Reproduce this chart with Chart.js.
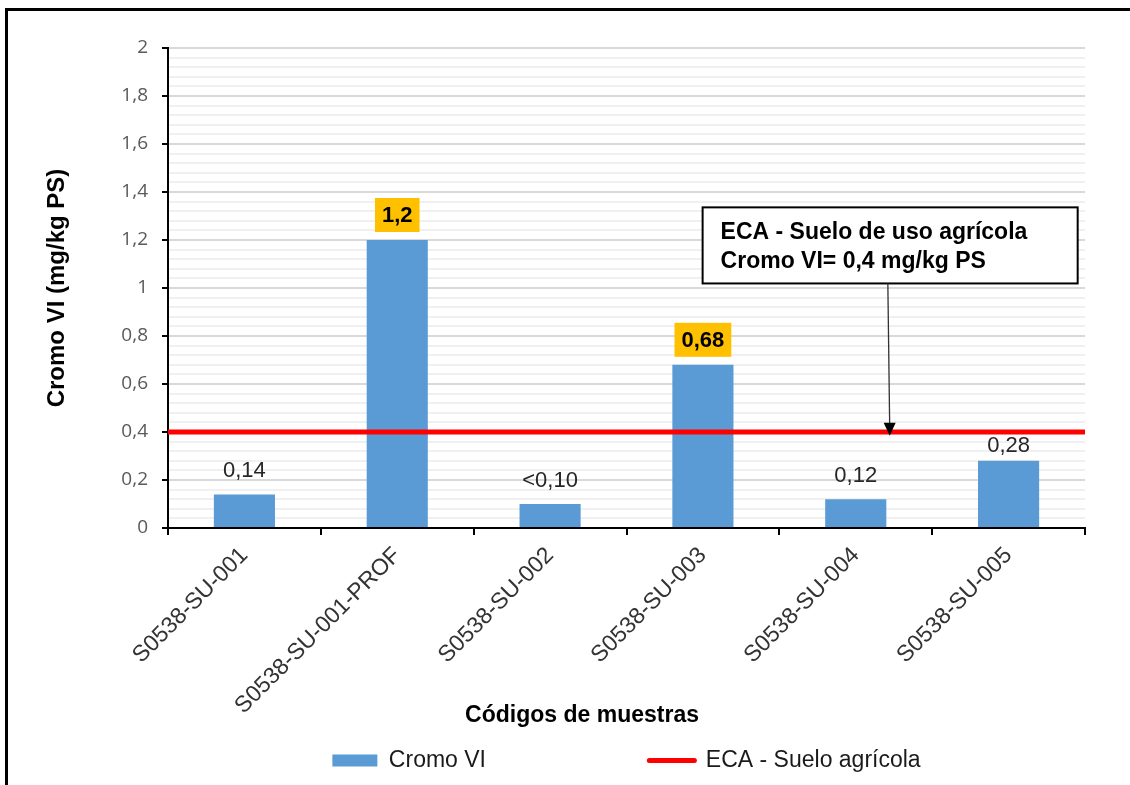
<!DOCTYPE html>
<html>
<head>
<meta charset="utf-8">
<script src="https://cdn.jsdelivr.net/npm/chart.js@4.4.0/dist/chart.umd.min.js"></script>
<style>
	html, body { margin: 0; padding: 0; background: #fff; }
	#wrap { width: 1130px; height: 785px; }
</style>
</head>
<body>
<div id="wrap"><canvas id="cromo" width="1130" height="785"></canvas></div>
<script>
var muestras = ["S0538-SU-001", "S0538-SU-001-PROF", "S0538-SU-002", "S0538-SU-003", "S0538-SU-004", "S0538-SU-005"];
var cromoVI = [0.14, 1.2, 0.10, 0.68, 0.12, 0.28];
var etiquetas = ["0,14", "1,2", "<0,10", "0,68", "0,12", "0,28"];
var resaltado = [false, true, false, true, false, false];
var ecaValor = 0.4;
var ecaLinea = [{ x: 0, y: ecaValor }, { x: 1, y: ecaValor }];
var yMayores = [0, 0.2, 0.4, 0.6, 0.8, 1, 1.2, 1.4, 1.6, 1.8, 2];
var yEtiquetas = ["0", "0,2", "0,4", "0,6", "0,8", "1", "1,2", "1,4", "1,6", "1,8", "2"];
var notaTexto = ["ECA - Suelo de uso agrícola", "Cromo VI= 0,4 mg/kg PS"];

var color = {
	bar: "#5B9BD5"
  , eca: "#FF0000"
  , gold: "#FFC000"
  , text: "#262626"
  , tick: "#595959"
  , major: "#D9D9D9"
  , minor: "#F0F0F0"
};
var fonts = "'Liberation Sans', Arial, sans-serif";

function mayor(v) {
	for (var i = 0; i < yMayores.length; i++) {
		if (Math.abs(yMayores[i] - v) < 1e-6) return i;
	}
	return -1;
}

// marco negro del grafico
var marco = {
	id: "marco",
	beforeDraw: function(chart) {
		var ctx = chart.ctx;
		ctx.save();
		ctx.fillStyle = "#fff";
		ctx.fillRect(0, 0, chart.width, chart.height);
		ctx.strokeStyle = "#000";
		ctx.lineWidth = 3;
		ctx.strokeRect(6.5, 9.5, chart.width + 20, chart.height + 20);
		ctx.restore();
	}
};

// etiquetas de valor, nota ECA con flecha, titulo del eje x
var extras = {
	id: "extras",
	afterDraw: function(chart) {
		var ctx = chart.ctx
		  , meta = chart.getDatasetMeta(0)
		  , x2 = chart.scales.x2
		  , y = chart.scales.y
		  , area = chart.chartArea
		  , lift = [23, 0, 23, 0, 23, 15];
		ctx.save();
		ctx.textAlign = "center";
		ctx.textBaseline = "middle";
		meta.data.forEach(function(bar, i) {
			if (resaltado[i]) {
				ctx.font = "bold 22px " + fonts;
				var w = ctx.measureText(etiquetas[i]).width + 14;
				ctx.fillStyle = color.gold;
				ctx.fillRect(bar.x - w / 2, bar.y - 8 - 34, w, 34);
				ctx.fillStyle = "#000";
				ctx.fillText(etiquetas[i], bar.x, bar.y - 8 - 16);
			} else {
				ctx.font = "22px " + fonts;
				ctx.fillStyle = color.text;
				ctx.fillText(etiquetas[i], bar.x, bar.y - lift[i]);
			}
		});

		// caja de la nota
		var bx0 = x2.getPixelForValue(0.583)
		  , bx1 = x2.getPixelForValue(0.992)
		  , by0 = y.getPixelForValue(1.336)
		  , by1 = y.getPixelForValue(1.019);
		ctx.fillStyle = "#fff";
		ctx.fillRect(bx0, by0, bx1 - bx0, by1 - by0);
		ctx.strokeStyle = "#000";
		ctx.lineWidth = 2;
		ctx.strokeRect(bx0, by0, bx1 - bx0, by1 - by0);
		ctx.font = "bold 23px " + fonts;
		ctx.fillStyle = "#000";
		ctx.textAlign = "left";
		ctx.textBaseline = "alphabetic";
		ctx.fillText(notaTexto[0], bx0 + 18, by0 + 32);
		ctx.fillText(notaTexto[1], bx0 + 18, by0 + 61);

		// flecha
		var ax0 = x2.getPixelForValue(0.785)
		  , ax1 = x2.getPixelForValue(0.787)
		  , tip = y.getPixelForValue(0.384);
		ctx.strokeStyle = "#333";
		ctx.lineWidth = 1.3;
		ctx.beginPath();
		ctx.moveTo(ax0, by1);
		ctx.lineTo(ax1, tip - 10);
		ctx.stroke();
		ctx.fillStyle = "#000";
		ctx.beginPath();
		ctx.moveTo(ax1 - 6, tip - 13);
		ctx.lineTo(ax1 + 6, tip - 13);
		ctx.lineTo(ax1, tip);
		ctx.closePath();
		ctx.fill();

		// titulo eje x
		ctx.font = "bold 23px " + fonts;
		ctx.textAlign = "center";
		ctx.textBaseline = "middle";
		ctx.fillText("Códigos de muestras", x2.getPixelForValue(0.4515), area.bottom + 188);
		ctx.restore();
	}
};

Chart.defaults.font.family = fonts;

var ctx = document.getElementById("cromo").getContext("2d");
var grafico = new Chart(ctx, {
	data: {
		labels: muestras,
		datasets: [
			{
				type: "bar",
				label: "Cromo VI",
				data: cromoVI,
				backgroundColor: color.bar,
				barPercentage: 0.4,
				categoryPercentage: 1,
				grouped: false,
				order: 1
			},
			{
				type: "line",
				label: "ECA - Suelo agrícola",
				data: ecaLinea,
				xAxisID: "x2",
				borderColor: color.eca,
				borderWidth: 5,
				pointRadius: 0,
				fill: false,
				order: 0
			}
		]
	},
	options: {
		responsive: false,
		animation: false,
		devicePixelRatio: 1,
		layout: { padding: { left: 0, right: 45, top: 48, bottom: 3 } },
		plugins: {
			tooltip: { enabled: false },
			legend: {
				position: "bottom",
				fullSize: false,
				labels: {
					usePointStyle: true,
					pointStyleWidth: 45,
					boxHeight: 12,
					padding: 10,
					color: "#1a1a1a",
					font: { size: 23 },
					generateLabels: function(chart) {
						var ds = chart.data.datasets;
						return [
							{ text: ds[0].label + "                        ", fillStyle: color.bar, strokeStyle: color.bar, lineWidth: 0, pointStyle: "rect", datasetIndex: 0, fontColor: "#1a1a1a" },
							{ text: ds[1].label, fillStyle: color.eca, strokeStyle: color.eca, lineWidth: 5, lineCap: "round", pointStyle: "line", datasetIndex: 1, fontColor: "#1a1a1a" }
						];
					}
				}
			}
		},
		scales: {
			x: {
				type: "category",
				offset: true,
				grid: { offset: true, drawOnChartArea: false, drawTicks: true, tickLength: 7, color: "#000", lineWidth: 2 },
				border: { color: "#000", width: 2 },
				ticks: { minRotation: 45, maxRotation: 45, autoSkip: false, padding: 7, color: "#333", font: { size: 23 } },
				afterFit: function(scale) { scale.height = 211; }
			},
			x2: { type: "linear", min: 0, max: 1, display: false },
			y: {
				min: 0,
				max: 2,
				grid: {
					color: function(c) { return mayor(c.tick.value) >= 0 ? color.major : color.minor; },
					lineWidth: 2,
					tickLength: 6,
					tickColor: function(c) { return mayor(c.tick.value) >= 0 ? "#000" : "rgba(0,0,0,0)"; },
					tickWidth: 2
				},
				border: { color: "#000", width: 2 },
				ticks: {
					stepSize: 0.04,
					autoSkip: false,
					padding: 14,
					color: color.tick,
					font: { family: "'Open Sans', sans-serif", size: 19 },
					callback: function(v) { var i = mayor(v); return i >= 0 ? yEtiquetas[i] : ""; }
				},
				title: {
					display: true,
					text: "Cromo VI (mg/kg PS)",
					color: "#000",
					font: { size: 24, weight: "bold" },
					padding: { top: 43, bottom: 0 }
				},
				afterFit: function(scale) { scale.width = 168; }
			}
		}
	},
	plugins: [marco, extras]
});
</script>
</body>
</html>
